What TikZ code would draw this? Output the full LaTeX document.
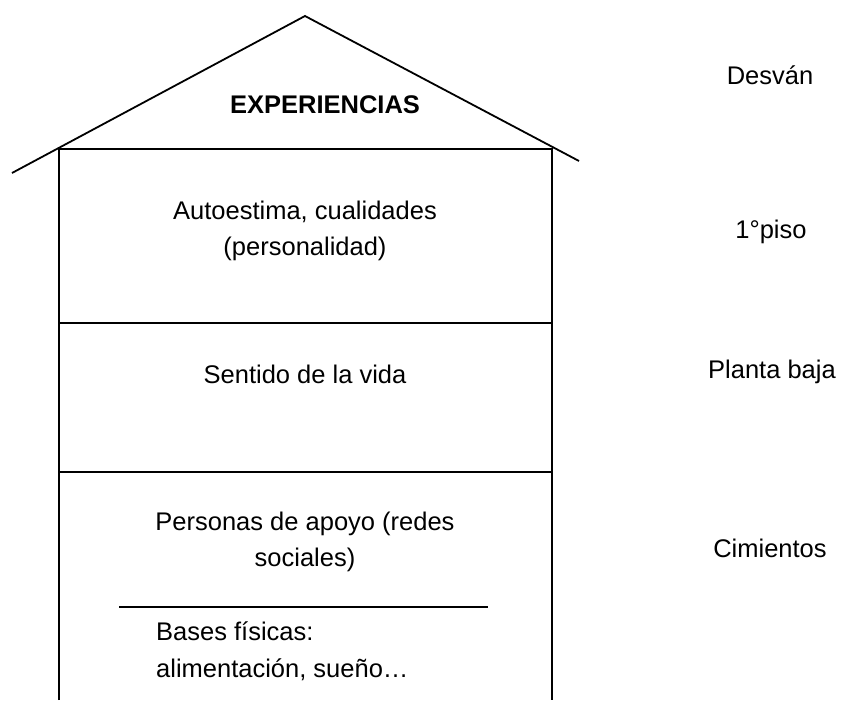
\documentclass[tikz,border=0pt]{standalone}
\usepackage{fontspec}
\setmainfont{Liberation Sans}
\begin{document}
\begin{tikzpicture}[x=1pt,y=-1pt,
  wall/.style={line width=1.8pt, line cap=rect},
  lbl/.style={font=\fontsize{25.5}{36}\selectfont, align=center, inner sep=0pt},
  lblleft/.style={font=\fontsize{25.5}{37}\selectfont, align=left, inner sep=0pt, anchor=west},
  side/.style={font=\fontsize{25.5}{36}\selectfont, inner sep=0pt}]
\useasboundingbox[fill=white] (0,0) rectangle (845,709);
% roof
\coordinate (roofL) at (12,173);
\coordinate (apex) at (305,16);
\coordinate (roofR) at (579,161);
\draw[wall, line cap=butt] (roofL) -- (apex) -- (roofR);
% walls
\coordinate (tl) at (59,149);
\coordinate (tr) at (552,149);
\coordinate (bl) at (59,700);
\coordinate (br) at (552,700);
\coordinate (d1l) at (59,323);
\coordinate (d1r) at (552,323);
\coordinate (d2l) at (59,472);
\coordinate (d2r) at (552,472);
\coordinate (sepl) at (119,607);
\coordinate (sepr) at (488,607);
\draw[wall, line cap=butt] (bl) -- (tl) -- (tr) -- (br);
\draw[wall] (d1l) -- (d1r);
\draw[wall] (d2l) -- (d2r);
\draw[wall, line cap=butt] (sepl) -- (sepr);
% texts
\node[lbl, font=\fontsize{25.5}{36}\selectfont\bfseries] (exp) at (325,105) {EXPERIENCIAS};
\node[lbl] (auto) at (305,231) {Autoestima, cualidades\\(personalidad)};
\node[lbl] (sent) at (305,374) {Sentido de la vida};
\node[lbl] (pers) at (305,542) {Personas de apoyo (redes\\sociales)};
\node[lblleft] (bases) at (156,651) {Bases físicas:\\alimentación, sueño…};
% side labels
\node[side] (desvan) at (770,75) {Desván};
\node[side] (piso) at (771,232) {1°piso};
\node[side] (planta) at (772,372) {Planta baja};
\node[side] (cim) at (770,548) {Cimientos};
\end{tikzpicture}
\end{document}
